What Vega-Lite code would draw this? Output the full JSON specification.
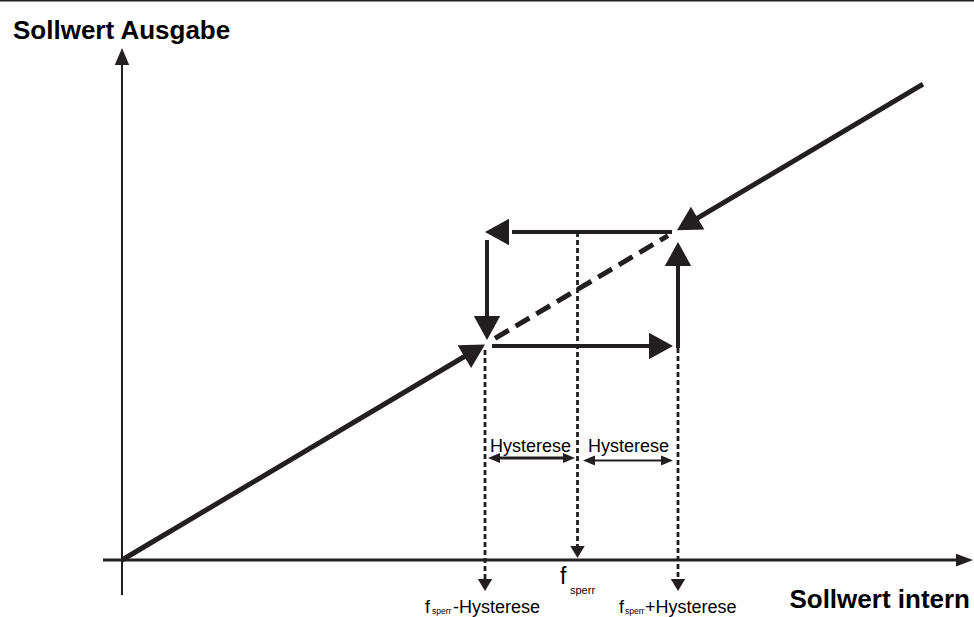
{
  "$schema": "https://vega.github.io/schema/vega-lite/v6.json",
  "width": 974,
  "height": 617,
  "padding": 0,
  "autosize": {"type": "none"},
  "background": "white",
  "config": {"view": {"stroke": null}},
  "datasets": {
    "segs": [
      {"seg": "frame", "kind": "thin", "o": 0, "x": -122, "y": 559.5},
      {"seg": "frame", "kind": "thin", "o": 1, "x": 852, "y": 559.5},
      {"seg": "yaxis", "kind": "thin", "o": 0, "x": 0, "y": -35},
      {"seg": "yaxis", "kind": "thin", "o": 1, "x": 0, "y": 497},
      {"seg": "xaxis", "kind": "axis", "o": 0, "x": -19, "y": 0},
      {"seg": "xaxis", "kind": "axis", "o": 1, "x": 837, "y": 0},
      {"seg": "curve1", "kind": "curve", "o": 0, "x": 0, "y": 0},
      {"seg": "curve1", "kind": "curve", "o": 1, "x": 345, "y": 205},
      {"seg": "curve2", "kind": "curve", "o": 0, "x": 573, "y": 340.4},
      {"seg": "curve2", "kind": "curve", "o": 1, "x": 801, "y": 475.8},
      {"seg": "dash", "kind": "dash", "o": 0, "x": 373, "y": 221.6},
      {"seg": "dash", "kind": "dash", "o": 1, "x": 546, "y": 324.3},
      {"seg": "arr_top", "kind": "arrow", "o": 0, "x": 550, "y": 328},
      {"seg": "arr_top", "kind": "arrow", "o": 1, "x": 390, "y": 328},
      {"seg": "arr_left", "kind": "arrow", "o": 0, "x": 365, "y": 320},
      {"seg": "arr_left", "kind": "arrow", "o": 1, "x": 365, "y": 242},
      {"seg": "arr_bottom", "kind": "arrow", "o": 0, "x": 370, "y": 214},
      {"seg": "arr_bottom", "kind": "arrow", "o": 1, "x": 530, "y": 214},
      {"seg": "arr_right", "kind": "arrow", "o": 0, "x": 556, "y": 212},
      {"seg": "arr_right", "kind": "arrow", "o": 1, "x": 556, "y": 296},
      {"seg": "dot1", "kind": "dot", "o": 0, "x": 363, "y": 210},
      {"seg": "dot1", "kind": "dot", "o": 1, "x": 363, "y": -20},
      {"seg": "dot2", "kind": "dot", "o": 0, "x": 455.5, "y": 328},
      {"seg": "dot2", "kind": "dot", "o": 1, "x": 455.5, "y": 12},
      {"seg": "dot3", "kind": "dot", "o": 0, "x": 556, "y": 212},
      {"seg": "dot3", "kind": "dot", "o": 1, "x": 556, "y": -20},
      {"seg": "span1", "kind": "span1", "o": 0, "x": 375, "y": 102},
      {"seg": "span1", "kind": "span1", "o": 1, "x": 444, "y": 102},
      {"seg": "span2", "kind": "span2", "o": 0, "x": 470, "y": 99.5},
      {"seg": "span2", "kind": "span2", "o": 1, "x": 542, "y": 99.5}
    ],
    "heads": [
      {"head": "rect", "dir": "left", "x": 363, "y": 328},
      {"head": "rect", "dir": "down", "x": 365, "y": 220},
      {"head": "rect", "dir": "right", "x": 551, "y": 214},
      {"head": "rect", "dir": "up", "x": 556, "y": 318},
      {"head": "rect", "dir": "upright", "x": 363, "y": 215.6},
      {"head": "rect", "dir": "downleft", "x": 555, "y": 329.7},
      {"head": "axis", "dir": "up", "x": 0, "y": 512},
      {"head": "axis", "dir": "right", "x": 851, "y": 0},
      {"head": "guide", "dir": "down", "x": 363, "y": -31},
      {"head": "guide", "dir": "down", "x": 455.5, "y": 2},
      {"head": "guide", "dir": "down", "x": 556, "y": -31},
      {"head": "span", "dir": "left", "x": 366, "y": 102},
      {"head": "span", "dir": "right", "x": 453, "y": 102},
      {"head": "span", "dir": "left", "x": 461, "y": 99.5},
      {"head": "span", "dir": "right", "x": 551, "y": 99.5}
    ],
    "labels": [
      {"label": "Sollwert Ausgabe", "role": "ytitle", "x": -109, "y": 521},
      {"label": "Sollwert intern", "role": "xtitle", "x": 848, "y": -48},
      {"label": "Hysterese", "role": "span", "x": 408.5, "y": 108},
      {"label": "Hysterese", "role": "span", "x": 506.5, "y": 108},
      {"label": "f", "role": "fmain", "x": 438, "y": -24},
      {"label": "sperr", "role": "fsub", "x": 448, "y": -34},
      {"label": "f", "role": "bottom", "x": 303, "y": -53},
      {"label": "sperr", "role": "bsub", "x": 310, "y": -54},
      {"label": "-Hysterese", "role": "bottom", "x": 331, "y": -53},
      {"label": "f", "role": "bottom", "x": 497, "y": -53},
      {"label": "sperr", "role": "bsub", "x": 503, "y": -54},
      {"label": "+Hysterese", "role": "bottom", "x": 523, "y": -53}
    ]
  },
  "encoding": {
    "x": {"field": "x", "type": "quantitative", "scale": {"domain": [-122, 852], "nice": false, "zero": false}, "axis": null},
    "y": {"field": "y", "type": "quantitative", "scale": {"domain": [-57, 560], "nice": false, "zero": false}, "axis": null}
  },
  "layer": [
    {"data": {"name": "segs"}, "transform": [{"filter": {"field": "kind", "equal": "thin"}}],
     "mark": {"type": "line", "color": "#231f20", "strokeWidth": 2, "strokeCap": "butt"},
     "encoding": {"detail": {"field": "seg"}, "order": {"field": "o"}}},
    {"data": {"name": "segs"}, "transform": [{"filter": {"field": "kind", "equal": "axis"}}],
     "mark": {"type": "line", "color": "#231f20", "strokeWidth": 3, "strokeCap": "butt"},
     "encoding": {"detail": {"field": "seg"}, "order": {"field": "o"}}},
    {"data": {"name": "segs"}, "transform": [{"filter": {"field": "kind", "equal": "curve"}}],
     "mark": {"type": "line", "color": "#231f20", "strokeWidth": 5, "strokeCap": "butt"},
     "encoding": {"detail": {"field": "seg"}, "order": {"field": "o"}}},
    {"data": {"name": "segs"}, "transform": [{"filter": {"field": "kind", "equal": "dash"}}],
     "mark": {"type": "line", "color": "#231f20", "strokeWidth": 5, "strokeCap": "butt", "strokeDash": [16, 8]},
     "encoding": {"detail": {"field": "seg"}, "order": {"field": "o"}}},
    {"data": {"name": "segs"}, "transform": [{"filter": {"field": "kind", "equal": "arrow"}}],
     "mark": {"type": "line", "color": "#231f20", "strokeWidth": 4, "strokeCap": "butt"},
     "encoding": {"detail": {"field": "seg"}, "order": {"field": "o"}}},
    {"data": {"name": "segs"}, "transform": [{"filter": {"field": "kind", "equal": "dot"}}],
     "mark": {"type": "line", "color": "#231f20", "strokeWidth": 2.8, "strokeCap": "butt", "strokeDash": [5, 3]},
     "encoding": {"detail": {"field": "seg"}, "order": {"field": "o"}}},
    {"data": {"name": "segs"}, "transform": [{"filter": {"field": "kind", "equal": "span1"}}],
     "mark": {"type": "line", "color": "#231f20", "strokeWidth": 3, "strokeCap": "butt"},
     "encoding": {"detail": {"field": "seg"}, "order": {"field": "o"}}},
    {"data": {"name": "segs"}, "transform": [{"filter": {"field": "kind", "equal": "span2"}}],
     "mark": {"type": "line", "color": "#231f20", "strokeWidth": 2, "strokeCap": "butt"},
     "encoding": {"detail": {"field": "seg"}, "order": {"field": "o"}}},

    {"data": {"name": "heads"}, "transform": [{"filter": "datum.head == 'rect' && datum.dir == 'left'"}],
     "mark": {"type": "point", "shape": "M0,0L1.1,2L-1.1,2Z", "size": 576, "angle": 270, "filled": true, "opacity": 1, "color": "#231f20", "strokeWidth": 0}},
    {"data": {"name": "heads"}, "transform": [{"filter": "datum.head == 'rect' && datum.dir == 'down'"}],
     "mark": {"type": "point", "shape": "M0,0L1.1,2L-1.1,2Z", "size": 576, "angle": 180, "filled": true, "opacity": 1, "color": "#231f20", "strokeWidth": 0}},
    {"data": {"name": "heads"}, "transform": [{"filter": "datum.head == 'rect' && datum.dir == 'right'"}],
     "mark": {"type": "point", "shape": "M0,0L1.1,2L-1.1,2Z", "size": 576, "angle": 90, "filled": true, "opacity": 1, "color": "#231f20", "strokeWidth": 0}},
    {"data": {"name": "heads"}, "transform": [{"filter": "datum.head == 'rect' && datum.dir == 'up'"}],
     "mark": {"type": "point", "shape": "M0,0L1.1,2L-1.1,2Z", "size": 576, "angle": 0, "filled": true, "opacity": 1, "color": "#231f20", "strokeWidth": 0}},
    {"data": {"name": "heads"}, "transform": [{"filter": "datum.head == 'rect' && datum.dir == 'upright'"}],
     "mark": {"type": "point", "shape": "M0,0L1.1,2L-1.1,2Z", "size": 576, "angle": 59.3, "filled": true, "opacity": 1, "color": "#231f20", "strokeWidth": 0}},
    {"data": {"name": "heads"}, "transform": [{"filter": "datum.head == 'rect' && datum.dir == 'downleft'"}],
     "mark": {"type": "point", "shape": "M0,0L1.1,2L-1.1,2Z", "size": 576, "angle": 239.3, "filled": true, "opacity": 1, "color": "#231f20", "strokeWidth": 0}},
    {"data": {"name": "heads"}, "transform": [{"filter": "datum.head == 'axis' && datum.dir == 'up'"}],
     "mark": {"type": "point", "shape": "M0,0L0.85,2L-0.85,2Z", "size": 289, "angle": 0, "filled": true, "opacity": 1, "color": "#231f20", "strokeWidth": 0}},
    {"data": {"name": "heads"}, "transform": [{"filter": "datum.head == 'axis' && datum.dir == 'right'"}],
     "mark": {"type": "point", "shape": "M0,0L0.75,2L-0.75,2Z", "size": 289, "angle": 90, "filled": true, "opacity": 1, "color": "#231f20", "strokeWidth": 0}},
    {"data": {"name": "heads"}, "transform": [{"filter": "datum.head == 'guide'"}],
     "mark": {"type": "point", "shape": "M0,0L1.2,2L-1.2,2Z", "size": 144, "angle": 180, "filled": true, "opacity": 1, "color": "#231f20", "strokeWidth": 0}},
    {"data": {"name": "heads"}, "transform": [{"filter": "datum.head == 'span' && datum.dir == 'left'"}],
     "mark": {"type": "point", "shape": "M0,0L0.85,2L-0.85,2Z", "size": 144, "angle": 270, "filled": true, "opacity": 1, "color": "#231f20", "strokeWidth": 0}},
    {"data": {"name": "heads"}, "transform": [{"filter": "datum.head == 'span' && datum.dir == 'right'"}],
     "mark": {"type": "point", "shape": "M0,0L0.85,2L-0.85,2Z", "size": 144, "angle": 90, "filled": true, "opacity": 1, "color": "#231f20", "strokeWidth": 0}},

    {"data": {"name": "labels"}, "transform": [{"filter": {"field": "role", "equal": "ytitle"}}],
     "mark": {"type": "text", "font": "Liberation Sans", "fontWeight": "bold", "fontSize": 26, "align": "left", "baseline": "alphabetic", "color": "#000000"},
     "encoding": {"text": {"field": "label"}}},
    {"data": {"name": "labels"}, "transform": [{"filter": {"field": "role", "equal": "xtitle"}}],
     "mark": {"type": "text", "font": "Liberation Sans", "fontWeight": "bold", "fontSize": 26, "align": "right", "baseline": "alphabetic", "color": "#000000"},
     "encoding": {"text": {"field": "label"}}},
    {"data": {"name": "labels"}, "transform": [{"filter": {"field": "role", "equal": "span"}}],
     "mark": {"type": "text", "font": "Liberation Sans", "fontSize": 18, "align": "center", "baseline": "alphabetic", "color": "#000000"},
     "encoding": {"text": {"field": "label"}}},
    {"data": {"name": "labels"}, "transform": [{"filter": {"field": "role", "equal": "fmain"}}],
     "mark": {"type": "text", "font": "Liberation Sans", "fontSize": 23, "align": "left", "baseline": "alphabetic", "color": "#000000"},
     "encoding": {"text": {"field": "label"}}},
    {"data": {"name": "labels"}, "transform": [{"filter": {"field": "role", "equal": "fsub"}}],
     "mark": {"type": "text", "font": "Liberation Sans", "fontSize": 11, "align": "left", "baseline": "alphabetic", "color": "#000000"},
     "encoding": {"text": {"field": "label"}}},
    {"data": {"name": "labels"}, "transform": [{"filter": {"field": "role", "equal": "bottom"}}],
     "mark": {"type": "text", "font": "Liberation Sans", "fontSize": 18, "align": "left", "baseline": "alphabetic", "color": "#000000"},
     "encoding": {"text": {"field": "label"}}},
    {"data": {"name": "labels"}, "transform": [{"filter": {"field": "role", "equal": "bsub"}}],
     "mark": {"type": "text", "font": "Liberation Sans", "fontSize": 8.5, "align": "left", "baseline": "alphabetic", "color": "#000000"},
     "encoding": {"text": {"field": "label"}}}
  ]
}
